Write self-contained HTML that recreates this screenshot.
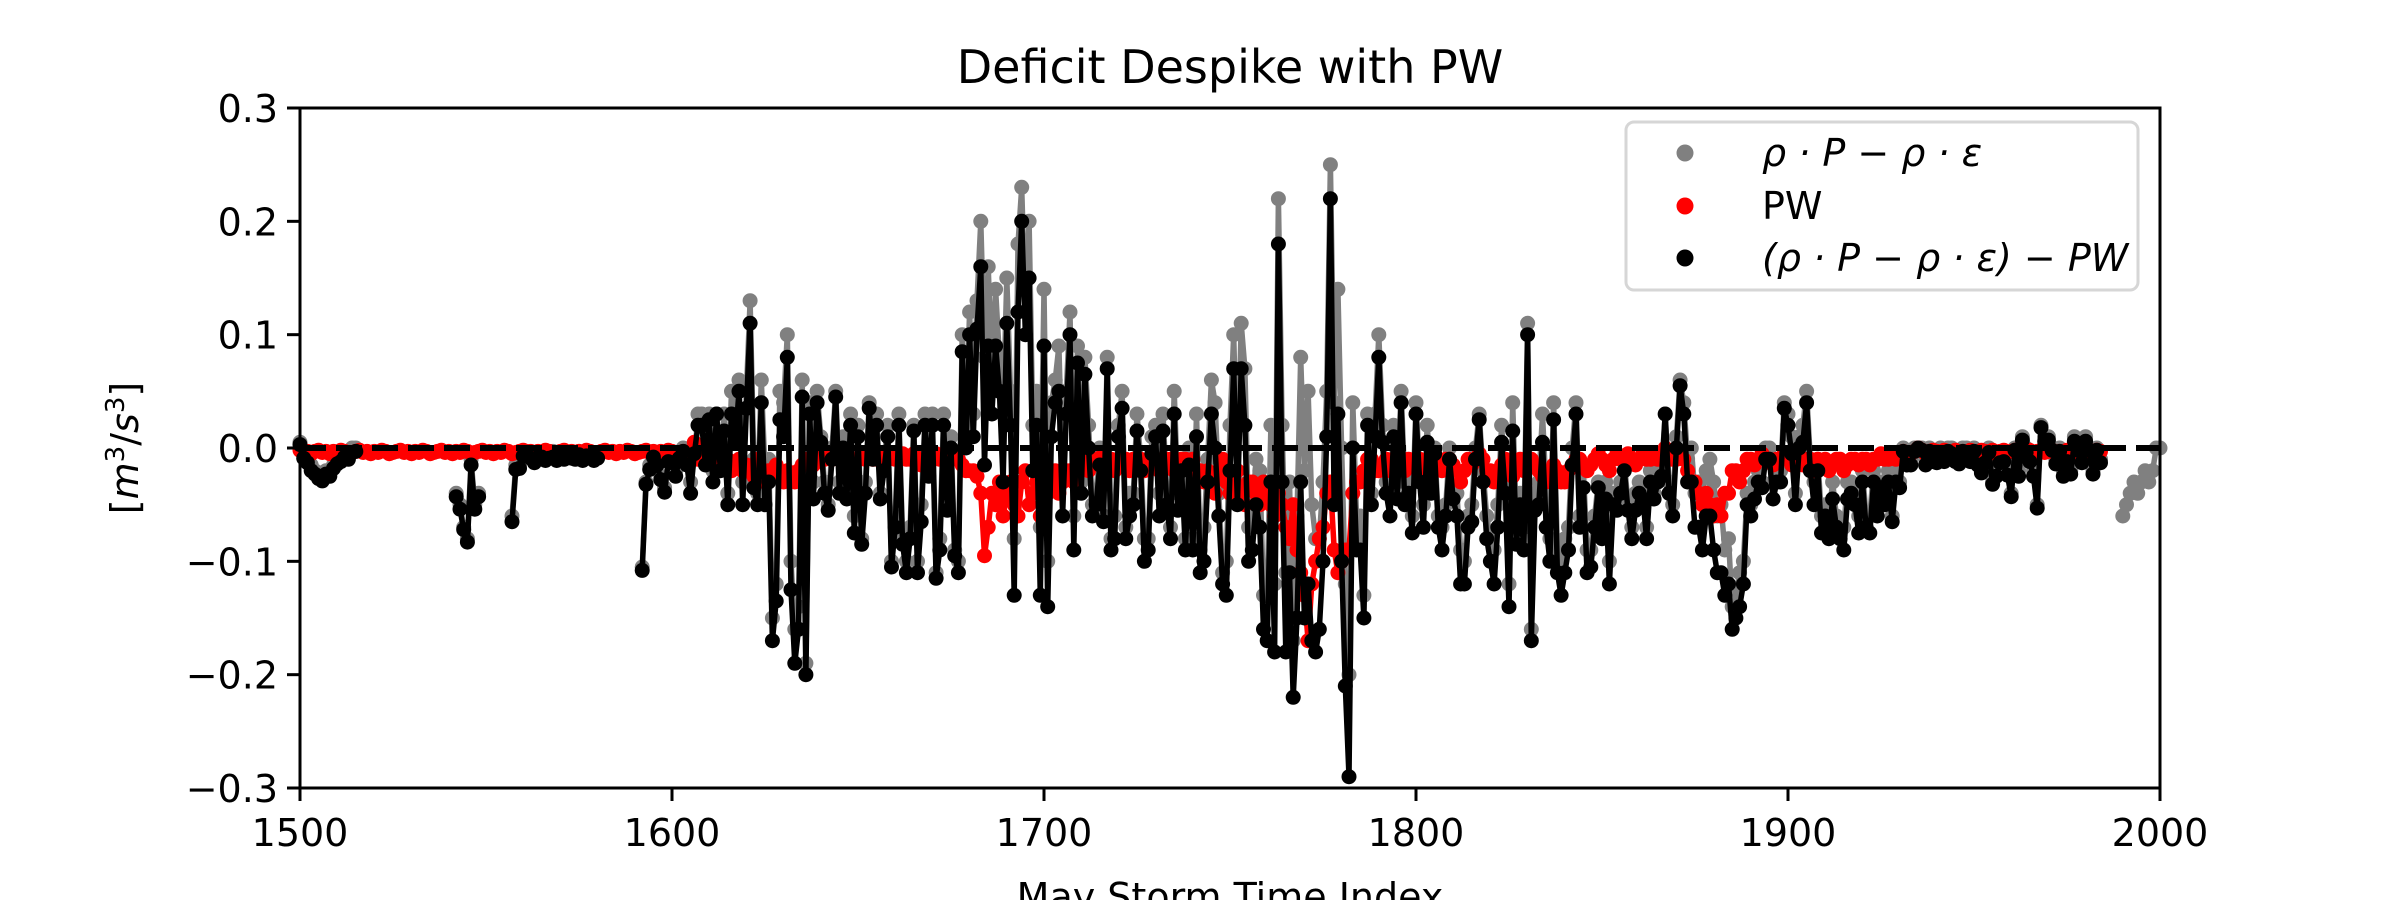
<!DOCTYPE html>
<html>
<head>
<meta charset="utf-8">
<style>
  html,body{margin:0;padding:0;background:#fff;}
  body{width:2400px;height:900px;overflow:hidden;}
  svg text{font-family:"DejaVu Sans","Liberation Sans",sans-serif;fill:#000;}
</style>
</head>
<body>
<svg id="chart" width="2400" height="900" viewBox="0 0 2400 900" xmlns="http://www.w3.org/2000/svg">
  <rect x="0" y="0" width="2400" height="900" fill="#fff"/>
  <text x="1230" y="83" font-size="46" text-anchor="middle">Deficit Despike with PW</text>
  <g id="plot"></g>
  <g id="axes"></g>
  <text x="1230" y="910" font-size="38" text-anchor="middle">May Storm Time Index</text>
  <text transform="translate(138,448) rotate(-90)" font-size="38" text-anchor="middle">[<tspan font-style="italic">m</tspan><tspan font-size="26" dy="-14">3</tspan><tspan dy="14">/</tspan><tspan font-style="italic">s</tspan><tspan font-size="26" dy="-14">3</tspan><tspan dy="14">]</tspan></text>
  <g>
    <rect x="1626" y="122" width="512" height="168" rx="8" fill="#fff" fill-opacity="0.8" stroke="#d6d6d6" stroke-width="3"/>
    <circle cx="1685" cy="153" r="8.5" fill="#808080"/>
    <text x="1762" y="166" font-size="38" font-style="italic">ρ · P − ρ · ε</text>
    <circle cx="1685" cy="206" r="8.5" fill="#ff0000"/>
    <text x="1762" y="219" font-size="38">PW</text>
    <circle cx="1685" cy="258" r="8.5" fill="#000"/>
    <text x="1762" y="271" font-size="38" font-style="italic">(ρ · P − ρ · ε) − PW</text>
  </g>
</svg>
<script>
// ---- data (values in units of 0.01 m^3/s^3), index starts at 1500 ----
const startIndex = 1500;
const xTicks = [1500, 1600, 1700, 1800, 1900, 2000];
const yTicks = [-0.3, -0.2, -0.1, 0.0, 0.1, 0.2, 0.3];
const yTickLabels = ["\u22120.3", "\u22120.2", "\u22120.1", "0.0", "0.1", "0.2", "0.3"];
const grayValues = [
  0.5,-0.5,-1,-1.5,-2,-2.5,-2.5,-2,-2,-1.5,-1,-1,-0.5,-0.5,0,0,
  null,null,null,null,null,null,null,null,null,null,null,null,null,null,null,null,null,null,null,null,null,null,null,null,null,null,
  -4,-5,-7,-8,-1,-5,-4,
  null,null,null,null,null,null,null,null,
  -6,-1.5,-1.5,
  -0.5,-0.3,-0.6,-0.8,-0.5,-0.4,-0.9,-0.6,-0.3,-0.7,-0.5,-0.8,-0.4,-0.6,-0.5,-0.3,-0.7,-0.5,-0.4,-0.6,-0.5,
  null,null,null,null,null,null,null,null,null,null,null,
  -10.5,-3,-1.5,-0.5,-1,-2.5,-3.5,-1,-1,-2,-0.5,0,-1,-3,-1,3,3,-1,
  3,-2,3,-1,3,-4,5,2,6,-3,
  5,13,-1,-4,6,-2,-1,-15,-12,5,
  4,10,-10,-16,-14,6,-19,4,-3,5,
  1,-3,-5,0,5,-3,1,-4,3,-6,
  2,-8,-3,4,0,3,-4,-1,2,-10,
  -6,3,-8,-10,-7,2,-10,-5,3,-2,
  3,-11,-8,3,-4,1,-9,-10,10,2,
  12,3,13,20,8,16,7,14,8,3,
  15,5,-8,18,23,12,20,2,5,-7,
  14,-10,4,6,9,-3,5,12,-6,9,
  -3,8,2,-5,-4,0,-6,8,-8,-6,
  2,5,-7,-4,-4,3,-1,-8,-8,1,
  2,-4,3,-4,-7,5,-4,-1,-8,0,
  -8,3,-9,-7,-1,6,4,-4,-11,-10,
  2,10,-3,11,7,-7,-6,-1,-2,-13,
  -13,2,-12,22,2,-11,-3,-17,-6,8,
  -2,5,-5,-8,-8,-3,5,25,4,14,
  0,-12,-20,4,-6,-6,-13,3,-4,3,
  10,2,-3,-4,2,-3,5,-3,-3,-6,
  4,-2,-5,2,-3,0,-6,-7,-5,0,
  -3,-4,-9,-10,-6,-5,0,3,-2,-6,
  -8,-9,-5,2,-3,-12,4,-7,-4,-7,
  11,-16,-4,-3,3,-4,-8,4,-9,-10,
  -8,-7,0,4,-6,-2,-9,-9,-6,-3,
  -7,-3,-10,-4,-5,-3,-1,-5,-7,-4,
  -3,-4,-7,-2,-4,-2,-2,3,-3,-5,
  1,6,4,-1,0,-4,-3,-4,-2,-1,
  -3,-6,-5,-9,-8,-14,-13,-11,-10,-4,
  -5,-3,-2,-3,0,0,-3,-2,-2,4,
  3,1,-4,1,2,5,-1,-3,-1,-6,
  -5,-6,-3,-6,-7,-7,-3,-3,-4,-6,
  -2,-6,-6,-2,-5,-3,-4,-2,-6,-2,
  -3,0,-1,-1,0,0,0,-1,0,-1,
  -1,0,-1,0,0,-1,-1,0,0,-1,
  0,-1,-2,-1,0,-3,-2,-1,-1,-2,
  -4,0,-2,1,0,-1,-2,-5,2,1,
  1,0,-1,0,-2,-1,-2,1,0,-1,
  1,0,-2,0,-1,
  null,null,null,null,null,
  -6,-5,-4,-3,-4,-3,-2,-3,-2,0,0
];
const redValues = [
  -0.2,-0.4,-0.3,-0.5,-0.3,-0.2,-0.4,-0.3,-0.5,-0.3,
  -0.4,-0.2,-0.3,-0.5,-0.4,-0.3,-0.2,-0.4,-0.3,-0.5,
  -0.3,-0.4,-0.2,-0.3,-0.5,-0.4,-0.3,-0.2,-0.4,-0.3,
  -0.5,-0.3,-0.4,-0.2,-0.3,-0.5,-0.4,-0.3,-0.2,-0.4,
  -0.3,-0.5,-0.3,-0.4,-0.2,-0.3,-0.5,-0.4,-0.3,-0.2,
  -0.4,-0.3,-0.5,-0.3,-0.4,-0.2,-0.3,-0.5,-0.4,-0.3,
  -0.2,-0.4,-0.3,-0.5,-0.3,-0.4,-0.2,-0.3,-0.5,-0.4,
  -0.3,-0.2,-0.4,-0.3,-0.5,-0.3,-0.4,-0.2,-0.3,-0.5,
  -0.4,-0.3,-0.2,-0.4,-0.3,-0.5,-0.3,-0.4,-0.2,-0.3,
  -0.5,-0.4,-0.3,-0.2,-0.4,-0.3,-0.5,-0.3,-0.4,-0.2,
  -0.3,-0.5,-0.4,-0.3,-0.5,-1,0.5,-1,-1,-0.5,
  -0.5,-1,0,-1,-1.5,-1,-2,-1.5,-1,-2,
  -1.5,-2,-2.5,-1,-2,-3,-2,-2,-1.5,-2.5,
  -3,-2,-2.5,-3,-2,-1.5,-1,-1,-1.5,-1,
  -0.5,-1,-0.5,-1,-0.5,-1,-1,-0.5,-1,-1.5,
  -1,-0.5,-1,-0.5,-1,-1,-0.5,-1,-1,-0.5,
  -1,-1,-0.5,-1,-1,-0.5,-1,-1.5,-1,-0.5,
  -1,-0.5,-1,-1,-1.5,-1,-0.5,-1,-1.5,-2,
  -2,-2,-2.5,-4,-9.5,-7,-4,-5,-3,-6,
  -4,-3,-5,-6,-3,-2,-5,-4,-3,-6,
  -5,-4,-3,-2,-4,-3,-2,-2,-3,-1.5,
  -1,-1.5,-2,-1,-1,-1.5,-0.5,-1,-1,-2,
  -1,-1.5,-1,-2,-1,-1.5,-1,-2,-1,-1.5,
  -1,-2,-1.5,-1,-1,-2,-1.5,-1,-1,-1.5,
  -1,-2,-2,-3,-2,-3,-4,-2,-1,-3,
  -4,-3,-2,-4,-5,-3,-3,-4,-5,-3,
  -4,-5,-6,-4,-5,-7,-8,-5,-9,-11,
  -13,-17,-12,-10,-8,-7,-4,-3,-9,-11,
  -10,-9,-9,-4,-3,-3,-2,-1,-1,-2,
  -2,-1.5,-1,-2,-1,-1.5,-1,-2,-1,-1.5,
  -1,-1,-2,-1.5,-1,-0.5,-1,-2,-1,-1,
  -1.5,-2,-3,-2,-1,-1.5,-1,-0.5,-1,-2,
  -2,-3,-2,-1.5,-1,-2,-2.5,-1.5,-1,-2,
  -1,-1,-1.5,-2,-2.5,-3,-2,-1.5,-2,-3,
  -3,-2,-1.5,-1,-1,-1.5,-2,-1.5,-1,-0.5,
  -1,-1.5,-2,-1,-0.5,-1,-1,-0.5,-1,-1.5,
  -1,-0.5,-1,-1,-0.5,-1,-0.5,0,-1,-1,
  -1,-0.5,-1,-2,-3,-3,-4,-5,-4,-5,
  -6,-5,-6,-4,-4,-2,-2,-3,-2,-1,
  -1,-1.5,-1,-0.5,-1,-1,-1.5,-1,-1,-0.5,
  -1,-1.5,-1,-1,-1.5,-1,-1,-2,-1,-1.5,
  -1,-2,-1.5,-1,-1,-2,-1.5,-1,-1,-1.5,
  -1,-1,-1.5,-1,-1,-0.5,-1,-1,-0.5,-1,
  -0.5,-0.3,-0.5,-0.5,-0.3,0,-0.2,-0.5,-0.3,-0.2,
  -0.3,-0.5,-0.2,-0.3,-0.5,-0.2,-0.4,-0.3,-0.5,-0.2,
  -0.3,-0.5,-0.2,-0.3,-0.4,-0.2,-0.5,-0.3,-0.2,-0.4,
  -0.3,-0.2,-0.5,-0.3,-0.4,-0.2,-0.5,-0.3,-0.2,-0.4,
  -0.3,-0.2,-0.4,-0.3,-0.5,-0.2,-0.3,-0.4,-0.2,-0.3,
  -0.4,-0.2,-0.3,-0.2,-0.3,
  null,null,null,null,null,null,null,null,null,null,null,null,null,null,null,null
];
// black series as plotted in the reference: combination of gray and red
const blackValues = grayValues.map(function (g, i) {
  const r = redValues[i];
  return (g === null || r === null || r === undefined) ? null : g + r;
});

// ---- axes geometry ----
const X0 = 300, X1 = 2160, Y0 = 108, Y1 = 788;
const xMin = 1500, xMax = 2000, yMin = -0.3, yMax = 0.3;
function xScale(i) { return X0 + (i - xMin) / (xMax - xMin) * (X1 - X0); }
function yScale(v) { return Y1 - (v - yMin) / (yMax - yMin) * (Y1 - Y0); }
const NS = "http://www.w3.org/2000/svg";
const plot = document.getElementById("plot");
const axes = document.getElementById("axes");

function drawSeries(values, color, name) {
  const g = document.createElementNS(NS, "g");
  
  
  let d = "", pen = false;
  values.forEach(function (h, k) {
    if (h === null) { pen = false; return; }
    const x = xScale(startIndex + k), y = yScale(h / 100);
    d += (pen ? "L" : "M") + x.toFixed(1) + " " + y.toFixed(1);
    pen = true;
  });
  const path = document.createElementNS(NS, "path");
  
  
  path.setAttribute("d", d);
  path.setAttribute("fill", "none");
  path.setAttribute("stroke", color);
  path.setAttribute("stroke-width", "5.5");
  path.setAttribute("stroke-linejoin", "round");
  g.appendChild(path);
  values.forEach(function (h, k) {
    if (h === null) return;
    const c = document.createElementNS(NS, "circle");
    
    
    c.setAttribute("cx", xScale(startIndex + k).toFixed(1));
    c.setAttribute("cy", yScale(h / 100).toFixed(1));
    c.setAttribute("r", "7.5");
    c.setAttribute("fill", color);
    g.appendChild(c);
  });
  plot.appendChild(g);
}

drawSeries(grayValues, "#808080", "rho-p-minus-rho-eps");
drawSeries(redValues, "#ff0000", "pw");

const zl = document.createElementNS(NS, "line");


zl.setAttribute("x1", X0); zl.setAttribute("x2", X1);
zl.setAttribute("y1", yScale(0)); zl.setAttribute("y2", yScale(0));
zl.setAttribute("stroke", "#000"); zl.setAttribute("stroke-width", "6");
zl.setAttribute("stroke-dasharray", "26 10");
plot.appendChild(zl);

drawSeries(blackValues, "#000000", "difference");

// frame
const frame = document.createElementNS(NS, "rect");


frame.setAttribute("x", X0); frame.setAttribute("y", Y0);
frame.setAttribute("width", X1 - X0); frame.setAttribute("height", Y1 - Y0);
frame.setAttribute("fill", "none"); frame.setAttribute("stroke", "#000"); frame.setAttribute("stroke-width", "3");
axes.appendChild(frame);

xTicks.forEach(function (t) {
  const x = xScale(t);
  const tk = document.createElementNS(NS, "line");
  
  
  tk.setAttribute("x1", x); tk.setAttribute("x2", x);
  tk.setAttribute("y1", Y1); tk.setAttribute("y2", Y1 + 13);
  tk.setAttribute("stroke", "#000"); tk.setAttribute("stroke-width", "3");
  axes.appendChild(tk);
  const lb = document.createElementNS(NS, "text");
  
  
  lb.setAttribute("x", x); lb.setAttribute("y", Y1 + 58);
  lb.setAttribute("font-size", "38"); lb.setAttribute("text-anchor", "middle");
  lb.textContent = String(t);
  axes.appendChild(lb);
});

yTicks.forEach(function (t, k) {
  const y = yScale(t);
  const tk = document.createElementNS(NS, "line");
  
  
  tk.setAttribute("x1", X0 - 13); tk.setAttribute("x2", X0);
  tk.setAttribute("y1", y); tk.setAttribute("y2", y);
  tk.setAttribute("stroke", "#000"); tk.setAttribute("stroke-width", "3");
  axes.appendChild(tk);
  const lb = document.createElementNS(NS, "text");
  
  
  lb.setAttribute("x", X0 - 22); lb.setAttribute("y", y + 14);
  lb.setAttribute("font-size", "38"); lb.setAttribute("text-anchor", "end");
  lb.textContent = yTickLabels[k];
  axes.appendChild(lb);
});
</script>
</body>
</html>
